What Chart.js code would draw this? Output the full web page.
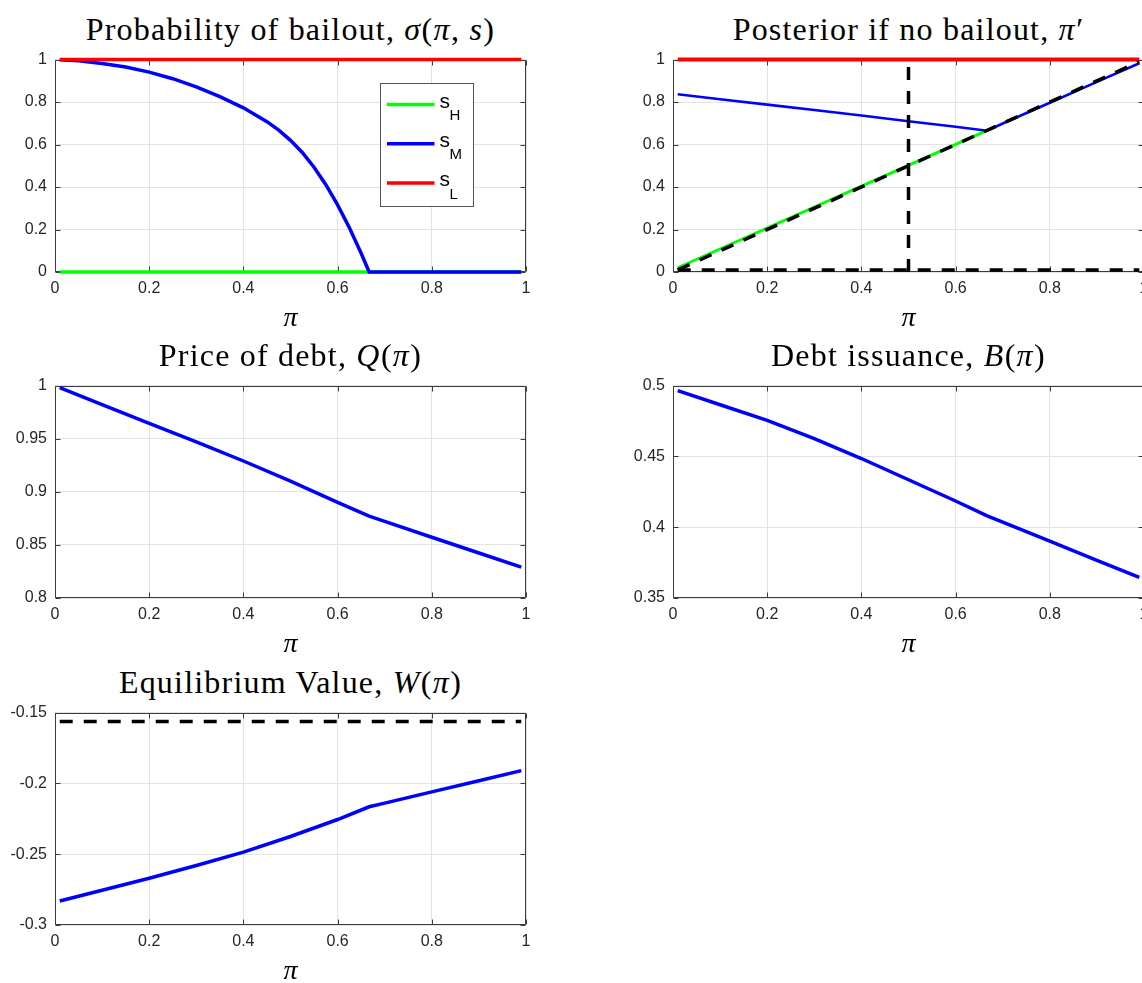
<!DOCTYPE html>
<html>
<head>
<meta charset="utf-8">
<script src="https://cdn.jsdelivr.net/npm/chart.js@4.4.1/dist/chart.umd.min.js"></script>
<style>
  html, body { margin: 0; padding: 0; background: #fff; overflow: hidden; }
  #page { position: relative; width: 1142px; height: 983px; overflow: hidden; }
  #page canvas { position: absolute; }
  .title {
    position: absolute; width: 600px; text-align: center; white-space: nowrap;
    font-family: "Liberation Serif", serif; font-size: 32px; line-height: 32px;
    letter-spacing: 1.2px; color: #000;
  }
  .title i { letter-spacing: 1.5px; }
</style>
</head>
<body>
<div id="page"></div>
<script>
// ---- data ----
const xTicks = [0, 0.2, 0.4, 0.6, 0.8, 1];
const yTicksUnit = [0, 0.2, 0.4, 0.6, 0.8, 1];
const yTicksQ = [0.8, 0.85, 0.9, 0.95, 1];
const yTicksB = [0.35, 0.4, 0.45, 0.5];
const yTicksW = [-0.3, -0.25, -0.2, -0.15];

// probability of bailout sigma(pi, s)
const piSigma = [0.01, 0.05, 0.1, 0.15, 0.2, 0.25, 0.3, 0.35, 0.4, 0.45, 0.475, 0.5, 0.525, 0.55, 0.575, 0.6, 0.625, 0.65, 0.667, 0.7, 0.8, 0.9, 0.99];
const sigmaH = [0, 0, 0, 0, 0, 0, 0, 0, 0, 0, 0, 0, 0, 0, 0, 0, 0, 0, 0, 0, 0, 0, 0];
const sigmaM = [0.999, 0.994, 0.982, 0.965, 0.941, 0.91, 0.872, 0.826, 0.773, 0.708, 0.668, 0.62, 0.563, 0.493, 0.411, 0.316, 0.208, 0.088, 0, 0, 0, 0, 0];
const sigmaL = [1, 1, 1, 1, 1, 1, 1, 1, 1, 1, 1, 1, 1, 1, 1, 1, 1, 1, 1, 1, 1, 1, 1];

// posterior if no bailout pi'
const piPost = [0.01, 0.1, 0.2, 0.3, 0.4, 0.5, 0.6, 0.667, 0.7, 0.8, 0.9, 0.99];
const postM = [0.837, 0.813, 0.788, 0.763, 0.737, 0.71, 0.684, 0.665, 0.699, 0.797, 0.895, 0.983];
const postL = [1, 1, 1, 1, 1, 1, 1, 1, 1, 1, 1, 1];
const piPostH = [0.01, 0.667];
const postH = [0.02, 0.667];
const diagX = [0.01, 0.99];
const diagY = [0.01, 0.99];
const floorY = [0.01, 0.01];
const cutX = [0.5, 0.5];
const cutY = [0, 1];

// equilibrium objects
const piEq = [0.01, 0.1, 0.2, 0.3, 0.4, 0.5, 0.6, 0.667, 0.7, 0.8, 0.9, 0.99];
const priceQ = [0.998, 0.982, 0.9645, 0.947, 0.929, 0.910, 0.890, 0.877, 0.8721, 0.8572, 0.8424, 0.829];
const debtB = [0.4965, 0.4865, 0.4755, 0.4625, 0.4485, 0.4335, 0.4185, 0.408, 0.4036, 0.3901, 0.3766, 0.3645];
const valueW = [-0.283, -0.2755, -0.267, -0.258, -0.2485, -0.2375, -0.2255, -0.2165, -0.2139, -0.206, -0.1981, -0.191];
const benchX = [0.01, 0.99];
const benchW = [-0.1563, -0.1563];

const legendNames = ["H", "M", "L"];

// ---- styling ----
const GREEN = "#00ff00", BLUE = "#0000ff", RED = "#ff0000", BLACK = "#000000";
const GRID = "#e3e3e3", AXIS = "#3c3c3c", TICK = "#262626";
const DASH = [13, 11];
const tickFont = { family: "Liberation Sans", size: 16 };
const fmt = (v) => String(+Number(v).toFixed(3));
const pts = (xs, ys) => xs.map((x, i) => ({ x, y: ys[i] }));

const line = (xs, ys, color, width, order, dash) => ({
  data: pts(xs, ys), borderColor: color, borderWidth: width, borderDash: dash || [],
  pointRadius: 0, tension: 0, fill: false, order, clip: 6
});

// matlab style box with inward ticks, drawn under the lines
const boxPlugin = {
  id: "mbox",
  beforeDatasetsDraw(chart) {
    const { ctx, chartArea: a, scales } = chart;
    const L = Math.round(a.left) + 0.5, R = Math.round(a.right) - 0.5;
    const T = Math.round(a.top) + 0.5, B = Math.round(a.bottom) - 0.5;
    ctx.save();
    ctx.strokeStyle = AXIS; ctx.lineWidth = 1;
    ctx.beginPath();
    ctx.rect(L, T, R - L, B - T);
    const tl = 5;
    scales.x.ticks.forEach(t => {
      const px = Math.round(scales.x.getPixelForValue(t.value)) + 0.5;
      ctx.moveTo(px, B); ctx.lineTo(px, B - tl);
      ctx.moveTo(px, T); ctx.lineTo(px, T + tl);
    });
    scales.y.ticks.forEach(t => {
      const py = Math.round(scales.y.getPixelForValue(t.value)) + 0.5;
      ctx.moveTo(L, py); ctx.lineTo(L + tl, py);
      ctx.moveTo(R, py); ctx.lineTo(R - tl, py);
    });
    ctx.stroke();
    ctx.restore();
  }
};

// legend with subscripts (s_H, s_M, s_L)
const legendPlugin = {
  id: "slegend",
  afterDatasetsDraw(chart) {
    const { ctx, chartArea: a } = chart;
    const bx = Math.round(a.left) + 325.5, by = Math.round(a.top) + 23.5, bw = 93, bh = 123;
    const colors = [GREEN, BLUE, RED];
    ctx.save();
    ctx.fillStyle = "#fff"; ctx.fillRect(bx, by, bw, bh);
    ctx.strokeStyle = "#555"; ctx.lineWidth = 1; ctx.strokeRect(bx, by, bw, bh);
    legendNames.forEach((n, i) => {
      const y = by + 21 + i * 39.3;
      ctx.strokeStyle = colors[i]; ctx.lineWidth = 3.5;
      ctx.beginPath(); ctx.moveTo(bx + 6.5, y); ctx.lineTo(bx + 54, y); ctx.stroke();
      ctx.fillStyle = "#000"; ctx.textBaseline = "alphabetic"; ctx.textAlign = "left";
      ctx.font = '21px "Liberation Sans"';
      ctx.fillText("s", bx + 59, y + 3);
      const sw = ctx.measureText("s").width;
      ctx.font = '15px "Liberation Sans"';
      ctx.fillText(n, bx + 59 + sw - 0.5, y + 15.5);
    });
    ctx.restore();
  }
};

function axes(yMin, yMax, yTicks) {
  return {
    x: {
      type: "linear", min: 0, max: 1,
      afterBuildTicks: s => { s.ticks = xTicks.map(v => ({ value: v })); },
      afterFit: s => { s.height = 66; },
      grid: { color: GRID, drawTicks: false }, border: { display: false },
      ticks: { padding: 7, color: TICK, font: tickFont, callback: fmt, autoSkip: false, maxRotation: 0 },
      title: { display: true, text: "π", color: "#000", padding: { top: 0, bottom: 3 },
               font: { family: "Liberation Serif", style: "italic", size: 28 } }
    },
    y: {
      type: "linear", min: yMin, max: yMax,
      afterBuildTicks: s => { s.ticks = yTicks.map(v => ({ value: v })); },
      afterFit: s => { s.width = 55; },
      grid: { color: GRID, drawTicks: false }, border: { display: false },
      ticks: { padding: 8, color: TICK, font: tickFont, callback: fmt, autoSkip: false }
    }
  };
}

const panels = [
  { left: 55, top: 59, title: 'Probability of bailout, <i>σ</i>(<i>π</i>, <i>s</i>)',
    datasets: [
      line(piSigma, sigmaL, RED, 3.5, 1),
      line(piSigma, sigmaM, BLUE, 3.5, 2),
      line(piSigma, sigmaH, GREEN, 3.5, 3)
    ], scales: axes(0, 1, yTicksUnit), extra: [legendPlugin] },
  { left: 673, top: 59, title: 'Posterior if no bailout, <i>π</i>′',
    datasets: [
      line(cutX, cutY, BLACK, 3.5, 0, DASH),
      line(diagX, diagY, BLACK, 3.5, 0, DASH),
      line(diagX, floorY, BLACK, 3.5, 0, DASH),
      line(piPost, postL, RED, 4, 1),
      line(piPost, postM, BLUE, 2.6, 2),
      line(piPostH, postH, GREEN, 3, 3)
    ], scales: axes(0, 1, yTicksUnit) },
  { left: 55, top: 385, title: 'Price of debt, <i>Q</i>(<i>π</i>)',
    datasets: [line(piEq, priceQ, BLUE, 3.5, 1)], scales: axes(0.8, 1, yTicksQ) },
  { left: 673, top: 385, title: 'Debt issuance, <i>B</i>(<i>π</i>)',
    datasets: [line(piEq, debtB, BLUE, 3.5, 1)], scales: axes(0.35, 0.5, yTicksB) },
  { left: 55, top: 712, title: 'Equilibrium Value, <i>W</i>(<i>π</i>)',
    datasets: [
      line(benchX, benchW, BLACK, 3.5, 0, DASH),
      line(piEq, valueW, BLUE, 3.5, 1)
    ], scales: axes(-0.3, -0.15, yTicksW) }
];

// chart.js leaves 17px above the plot area (tick label overflow), so the canvas starts 17px higher
const page = document.getElementById("page");
panels.forEach(p => {
  const t = document.createElement("div");
  t.className = "title";
  t.innerHTML = p.title;
  t.style.left = (p.left + 235.5 - 300) + "px";
  t.style.top = (p.top - 46) + "px";
  page.appendChild(t);

  const c = document.createElement("canvas");
  c.width = 546; c.height = 296;
  c.style.left = (p.left - 55) + "px";
  c.style.top = (p.top - 17) + "px";
  page.appendChild(c);

  new Chart(c.getContext("2d"), {
    type: "line",
    data: { datasets: p.datasets },
    options: {
      responsive: false, animation: false,
      layout: { padding: { top: 10, right: 20, left: 0, bottom: 0 } },
      plugins: { legend: { display: false }, tooltip: { enabled: false } },
      events: [],
      scales: p.scales
    },
    plugins: [boxPlugin, ...(p.extra || [])]
  });
});
</script>
</body>
</html>
